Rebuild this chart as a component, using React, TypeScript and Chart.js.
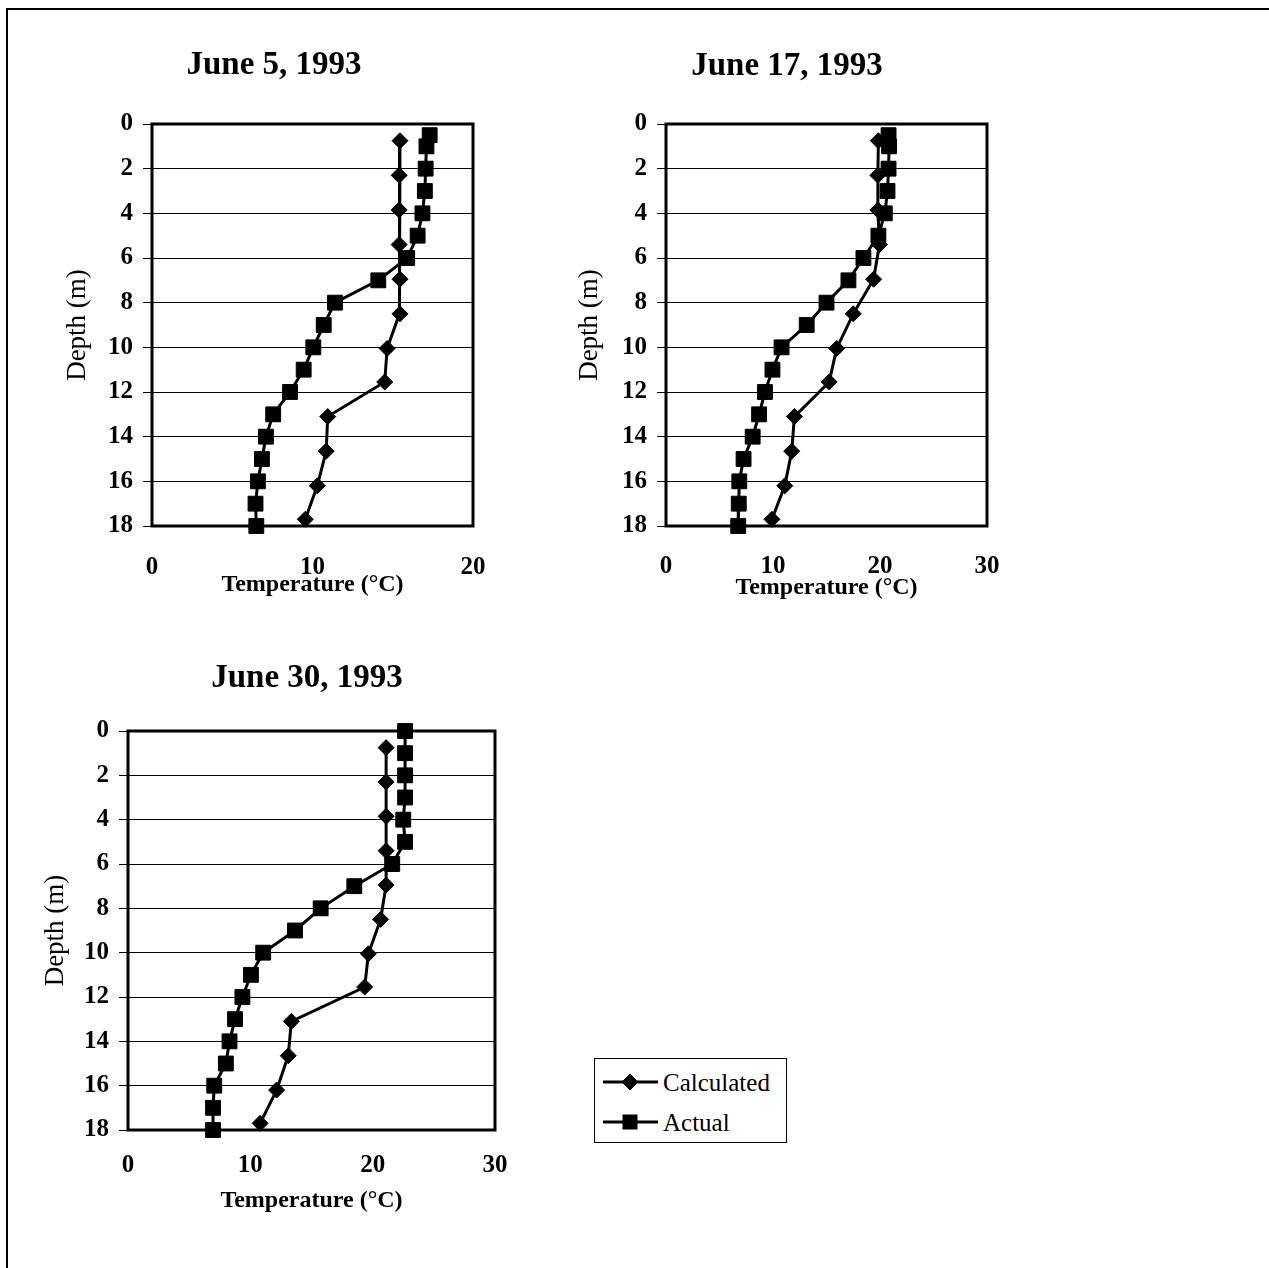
import React, { useEffect, useRef } from "react";
import { Chart, registerables } from "chart.js";

Chart.register(...registerables);

// ---------- data ----------
const calcDepths = [0.75, 2.3, 3.85, 5.4, 6.95, 8.5, 10.05, 11.55, 13.1, 14.65, 16.2, 17.7];
const actualDepthsHalf = [0.5, 1, 2, 3, 4, 5, 6, 7, 8, 9, 10, 11, 12, 13, 14, 15, 16, 17, 18];
const actualDepthsZero = [0, 1, 2, 3, 4, 5, 6, 7, 8, 9, 10, 11, 12, 13, 14, 15, 16, 17, 18];

const june5Calc = [15.45, 15.4, 15.4, 15.4, 15.45, 15.45, 14.65, 14.5, 10.95, 10.85, 10.3, 9.55];
const june5Actual = [17.3, 17.1, 17.05, 17.0, 16.85, 16.55, 15.9, 14.1, 11.4, 10.7, 10.05, 9.45, 8.6, 7.55, 7.1, 6.85, 6.6, 6.45, 6.5];

const june17Calc = [19.85, 19.8, 19.8, 19.95, 19.4, 17.5, 15.95, 15.25, 12.0, 11.75, 11.1, 9.9];
const june17Actual = [20.8, 20.85, 20.8, 20.7, 20.45, 19.85, 18.45, 17.05, 15.0, 13.15, 10.8, 9.95, 9.25, 8.7, 8.1, 7.25, 6.85, 6.8, 6.75];

const june30Calc = [21.1, 21.1, 21.1, 21.1, 21.1, 20.65, 19.65, 19.35, 13.35, 13.1, 12.15, 10.8];
const june30Actual = [22.65, 22.65, 22.65, 22.65, 22.5, 22.65, 21.6, 18.5, 15.75, 13.65, 11.05, 10.05, 9.35, 8.75, 8.3, 8.0, 7.05, 6.95, 6.95];

const titles = ["June 5, 1993", "June 17, 1993", "June 30, 1993"];
const xMaxes = [20, 30, 30];
const xStep = 10;
const depthMin = 0;
const depthMax = 18;
const depthStep = 2;
const xTitle = "Temperature (°C)";
const yTitle = "Depth (m)";
const seriesNames = ["Calculated", "Actual"];

const FONT = "'Liberation Serif', 'Times New Roman', serif";

type Layout = {
  plot: { l: number; t: number; r: number; b: number };
  titleX: number;
  titleBase: number;
  xPad: number;
  xTitleY: number;
  yTitleX: number;
};

type Cfg = {
  title: string;
  xMax: number;
  calcT: number[];
  calcD: number[];
  actT: number[];
  actD: number[];
  lay: Layout;
};

const ML = 125;
const MT = 100;
const MR = 40;
const MB = 100;

function ProfileChart({ cfg }: { cfg: Cfg }) {
  const ref = useRef<HTMLCanvasElement>(null);
  const { plot } = cfg.lay;
  const cw = plot.r - plot.l + ML + MR;
  const ch = plot.b - plot.t + MT + MB;
  const ox = plot.l - ML;
  const oy = plot.t - MT;

  useEffect(() => {
    if (!ref.current) return;
    const lay = cfg.lay;
    const textPlugin = {
      id: "profileText",
      beforeDatasetsDraw(chart: any) {
        const { ctx, chartArea } = chart;
        ctx.save();
        ctx.strokeStyle = "#000";
        ctx.lineWidth = 3;
        ctx.strokeRect(chartArea.left, chartArea.top, chartArea.right - chartArea.left, chartArea.bottom - chartArea.top);
        ctx.restore();
      },
      afterDraw(chart: any) {
        const { ctx, chartArea } = chart;
        ctx.save();
        ctx.fillStyle = "#000";
        // chart title
        ctx.font = `bold 33px ${FONT}`;
        ctx.textAlign = "center";
        ctx.textBaseline = "alphabetic";
        ctx.fillText(cfg.title, lay.titleX - ox, lay.titleBase - oy);
        // x title
        ctx.font = `bold 24px ${FONT}`;
        ctx.textBaseline = "middle";
        ctx.fillText(xTitle, (chartArea.left + chartArea.right) / 2, lay.xTitleY - oy);
        // y title
        ctx.font = `27px ${FONT}`;
        ctx.translate(lay.yTitleX - ox, (chartArea.top + chartArea.bottom) / 2);
        ctx.rotate(-Math.PI / 2);
        ctx.textBaseline = "middle";
        ctx.fillText(yTitle, 0, 0);
        ctx.restore();
      },
    };

    const chart = new Chart(ref.current, {
      type: "scatter",
      data: {
        datasets: [
          {
            label: seriesNames[0],
            data: cfg.calcD.map((d, i) => ({ x: cfg.calcT[i], y: d })),
            showLine: true,
            borderColor: "#000",
            backgroundColor: "#000",
            borderWidth: 3,
            pointStyle: "rectRot",
            pointRadius: 8,
            pointBorderWidth: 1,
            pointBackgroundColor: "#000",
            pointBorderColor: "#000",
            clip: false,
          } as any,
          {
            label: seriesNames[1],
            data: cfg.actD.map((d, i) => ({ x: cfg.actT[i], y: d })),
            showLine: true,
            borderColor: "#000",
            backgroundColor: "#000",
            borderWidth: 3,
            pointStyle: "rect",
            pointRadius: 10.5,
            pointBorderWidth: 1,
            pointBackgroundColor: "#000",
            pointBorderColor: "#000",
            clip: false,
          } as any,
        ],
      },
      options: {
        responsive: false,
        animation: false,
        devicePixelRatio: 1,
        layout: { padding: { left: 0, top: MT, right: MR, bottom: 0 } },
        plugins: {
          legend: { display: false },
          tooltip: { enabled: false },
          title: { display: false },
        },
        scales: {
          x: {
            type: "linear",
            position: "bottom",
            min: 0,
            max: cfg.xMax,
            ticks: {
              stepSize: xStep,
              padding: lay.xPad,
              color: "#000",
              maxRotation: 0,
              font: { family: FONT, size: 25, weight: "bold" },
            },
            grid: { display: false, drawTicks: false },
            border: { display: false },
            afterFit: (s: any) => {
              s.height = MB;
            },
          },
          y: {
            type: "linear",
            reverse: true,
            min: depthMin,
            max: depthMax,
            ticks: {
              stepSize: depthStep,
              padding: 10,
              color: "#000",
              font: { family: FONT, size: 25, weight: "bold" },
            },
            grid: { color: "#000", lineWidth: 1, tickLength: 9, drawTicks: true },
            border: { display: false },
            afterFit: (s: any) => {
              s.width = ML;
            },
          },
        },
      } as any,
      plugins: [textPlugin],
    });
    return () => chart.destroy();
  }, []);

  return (
    <canvas
      ref={ref}
      width={cw}
      height={ch}
      style={{ position: "absolute", left: ox, top: oy, width: cw, height: ch }}
    />
  );
}

const layouts: Layout[] = [
  { plot: { l: 152, t: 124, r: 473, b: 526 }, titleX: 274, titleBase: 74, xPad: 27, xTitleY: 585, yTitleX: 78 },
  { plot: { l: 666, t: 124, r: 987, b: 526 }, titleX: 787, titleBase: 75, xPad: 26, xTitleY: 588, yTitleX: 590 },
  { plot: { l: 128, t: 731, r: 495, b: 1130 }, titleX: 307, titleBase: 687, xPad: 21, xTitleY: 1201, yTitleX: 56 },
];

const configs: Cfg[] = [
  { title: titles[0], xMax: xMaxes[0], calcT: june5Calc, calcD: calcDepths, actT: june5Actual, actD: actualDepthsHalf, lay: layouts[0] },
  { title: titles[1], xMax: xMaxes[1], calcT: june17Calc, calcD: calcDepths, actT: june17Actual, actD: actualDepthsHalf, lay: layouts[1] },
  { title: titles[2], xMax: xMaxes[2], calcT: june30Calc, calcD: calcDepths, actT: june30Actual, actD: actualDepthsZero, lay: layouts[2] },
];

function Legend() {
  return (
    <svg
      width={194}
      height={86}
      style={{ position: "absolute", left: 594, top: 1058 }}
    >
      <rect x={0.5} y={0.5} width={192} height={84} fill="#fff" stroke="#000" strokeWidth={1} />
      <line x1={9} y1={24} x2={64} y2={24} stroke="#000" strokeWidth={3} />
      <polygon points="28,24 36,16 44,24 36,32" fill="#000" stroke="#000" strokeWidth={1} />
      <text x={69} y={33} fontFamily={FONT} fontSize={25} fill="#000">
        {seriesNames[0]}
      </text>
      <line x1={9} y1={64} x2={64} y2={64} stroke="#000" strokeWidth={3} />
      <rect x={29} y={57} width={14} height={14} fill="#000" stroke="#000" strokeWidth={1} />
      <text x={69} y={73} fontFamily={FONT} fontSize={25} fill="#000">
        {seriesNames[1]}
      </text>
    </svg>
  );
}

export default function App() {
  return (
    <div
      style={{
        position: "absolute",
        left: 0,
        top: 0,
        width: 1269,
        height: 1268,
        background: "#fff",
        overflow: "hidden",
      }}
    >
      <div style={{ position: "absolute", left: 6, top: 8, width: 1263, height: 2, background: "#000" }} />
      <div style={{ position: "absolute", left: 6, top: 8, width: 2, height: 1260, background: "#000" }} />
      {configs.map((c, i) => (
        <ProfileChart key={i} cfg={c} />
      ))}
      <Legend />
    </div>
  );
}
